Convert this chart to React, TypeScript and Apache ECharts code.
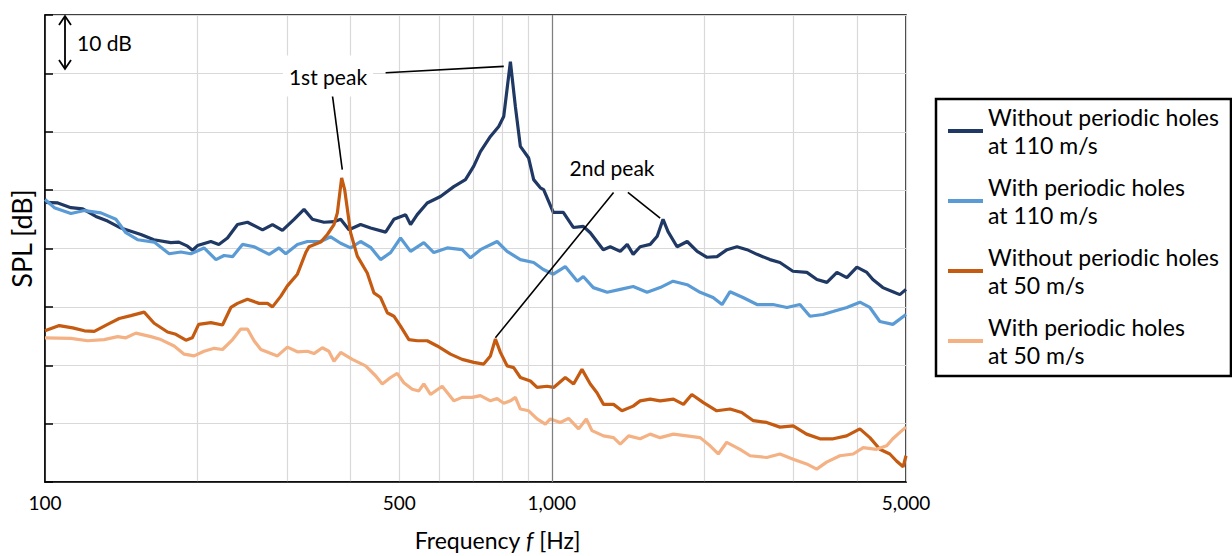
import React, { useEffect, useRef } from "react";
import * as echarts from "echarts";

// Frequency grid / labels (Hz)
const xTickValues = [100, 200, 300, 400, 500, 600, 700, 800, 900, 1000, 2000, 3000, 4000, 5000];
const xLabelValues = [100, 500, 1000, 5000];

const seriesNames = [
  "Without periodic holes\nat 110 m/s",
  "With periodic holes\nat 110 m/s",
  "Without periodic holes\nat 50 m/s",
  "With periodic holes\nat 50 m/s",
];
const seriesColors = ["#203864", "#5B9BD5", "#C55A11", "#F4B183"];

// [frequency Hz, SPL dB (relative)]
const without110: [number, number][] = [
  [100, 47.9], [106, 47.8], [112.5, 47.0], [118.7, 46.8], [126, 45.5], [132.9, 44.7], [141.2, 43.5],
  [154.6, 42.4], [164, 41.5], [177.1, 41.0], [183.7, 41.1], [191.1, 40.4], [195.5, 39.7], [200, 40.5],
  [212.5, 41.2], [220.3, 40.7], [229.1, 41.8], [239.8, 44.1], [250.9, 44.5], [268.7, 43.2], [281.1, 44.1],
  [294.1, 43.1], [310.1, 45.0], [324.4, 46.7], [337, 45.0], [355.2, 44.5], [371.7, 44.6], [383.2, 45.0],
  [397.9, 43.2], [419.5, 44.1], [439, 43.5], [470, 42.8], [488, 45.0], [514.6, 45.8], [526.4, 44.1],
  [542.6, 45.8], [567.8, 47.8], [603.1, 48.9], [640.7, 50.6], [675.6, 51.8], [701.6, 54.1], [723.1, 56.6],
  [756.7, 59.2], [785.8, 60.9], [803.8, 62.6], [828.6, 72.0], [847.6, 64.3], [867, 57.5], [900.3, 55.5],
  [921, 51.8], [949.4, 50.4], [963.7, 50.1], [1007, 46.2], [1053.8, 46.2], [1102.8, 43.6], [1154, 43.8],
  [1191.2, 42.7], [1263.5, 39.8], [1304.4, 40.3], [1365, 39.5], [1409, 40.7], [1447.5, 39.0], [1494, 40.3],
  [1564, 40.7], [1614.6, 42.1], [1658, 45.0], [1696, 42.9], [1767, 40.3], [1850, 41.2], [1936, 39.5],
  [2025, 38.5], [2119, 38.6], [2217, 39.8], [2320, 40.3], [2428, 39.8], [2541, 39.0], [2695, 38.1],
  [2820, 37.6], [2991, 36.1], [3187, 35.9], [3336, 34.7], [3491, 34.2], [3653, 35.9], [3822, 35.0],
  [4000, 36.8], [4186, 35.9], [4301, 34.7], [4500, 33.3], [4710, 32.6], [4862, 32.1], [5000, 33.0],
];

const with110: [number, number][] = [
  [100, 48.4], [104.3, 47.0], [112.5, 46.0], [119.6, 46.5], [128.9, 46.1], [138, 45.0], [144.4, 42.7],
  [152.3, 41.5], [164.2, 41.1], [175.8, 39.1], [185.4, 39.4], [194, 39.1], [206, 40.1], [217.4, 38.1],
  [225.6, 38.8], [234.5, 38.6], [245.3, 40.7], [258.5, 40.3], [276.9, 39.0], [289.6, 40.1], [298.6, 39.1],
  [314.8, 40.7], [329.5, 41.2], [349.9, 41.2], [366.2, 42.0], [383.2, 40.9], [400.9, 40.1], [419.5, 41.2],
  [439, 40.2], [459.4, 38.1], [480.7, 39.3], [503, 41.8], [526.4, 39.5], [559.1, 41.0], [585.1, 39.3],
  [621.7, 40.1], [665.5, 39.8], [691.1, 38.4], [723.1, 39.8], [780, 41.2], [816.2, 39.5], [867, 38.1],
  [921, 37.6], [962.4, 36.4], [1007, 35.6], [1063.2, 36.9], [1123, 34.4], [1154, 35.2], [1207.5, 33.3],
  [1286.6, 32.5], [1365, 33.0], [1447.5, 33.5], [1542, 32.5], [1636, 33.3], [1735.5, 34.4], [1850, 33.8],
  [1962, 32.5], [2081, 31.6], [2167.5, 30.4], [2248, 32.6], [2384, 31.6], [2541, 30.4], [2732, 30.4],
  [2911, 29.9], [3088, 30.4], [3232, 28.4], [3428, 28.7], [3588, 29.2], [3822, 29.9], [4055, 30.8],
  [4243, 29.9], [4440, 27.5], [4710, 27.0], [5000, 28.7],
];

const without50: [number, number][] = [
  [100, 25.9], [106.7, 26.8], [113.4, 26.4], [119.6, 25.9], [125.1, 25.8], [132.9, 27.0], [140.1, 28.0],
  [147.7, 28.5], [156.9, 29.1], [164.2, 27.2], [174.5, 25.7], [181.2, 25.3], [189.7, 24.3], [195.3, 24.7],
  [201, 27.0], [212.5, 27.3], [224, 26.9], [232.7, 29.9], [239.8, 30.6], [250.9, 31.3], [264.5, 30.6],
  [274.8, 30.6], [281.1, 30.0], [291.8, 31.8], [300.8, 33.6], [314.8, 35.6], [327, 39.3], [331.9, 40.3],
  [349.9, 41.1], [360.7, 42.4], [371.7, 44.1], [377.5, 46.1], [384.9, 52.1], [390.2, 50.1], [400.9, 42.7],
  [413.3, 38.7], [432.4, 35.8], [445.6, 32.4], [459.4, 31.6], [473.6, 29.0], [488, 28.4], [503, 26.7],
  [522.4, 24.4], [542.6, 24.2], [567.8, 24.2], [594.2, 23.3], [631.1, 21.9], [665.5, 21.0], [701.6, 20.5],
  [734, 20.2], [756.7, 21.6], [774.1, 24.5], [791.8, 22.2], [816.2, 19.9], [841.1, 19.6], [867, 17.9],
  [907.3, 17.3], [935.3, 16.2], [978.7, 16.4], [1008.5, 16.2], [1063.2, 17.9], [1104.3, 16.8], [1147, 19.3],
  [1191.2, 16.8], [1228, 15.3], [1265, 13.3], [1324, 13.3], [1375.5, 12.2], [1447.5, 13.0], [1494, 13.9],
  [1564, 14.2], [1636, 13.9], [1737.8, 14.2], [1819, 13.3], [1889.5, 15.0], [1991.6, 13.6], [2116, 12.2],
  [2248, 12.5], [2370, 11.9], [2499, 10.5], [2655, 10.2], [2820, 9.4], [2995, 9.6], [3183, 8.2],
  [3382, 7.4], [3592, 7.4], [3817, 7.9], [4055, 9.1], [4243, 7.6], [4440, 5.6], [4646, 4.8],
  [4789, 3.6], [4935, 2.6], [5000, 4.5],
];

const with50: [number, number][] = [
  [100, 24.7], [112.5, 24.6], [121.4, 24.2], [130.8, 24.4], [139.1, 24.9], [144.4, 24.7], [151.1, 25.5],
  [161.8, 24.9], [169.3, 24.4], [179.8, 23.3], [188.2, 21.9], [196.9, 21.6], [206, 22.4], [215.7, 22.9],
  [224, 22.7], [234.5, 24.4], [243.4, 26.2], [250.9, 26.2], [258.5, 24.2], [266.6, 22.7], [287.5, 21.6],
  [300.8, 23.1], [314.8, 22.3], [329.5, 22.4], [339.4, 22.0], [352.6, 23.0], [363.2, 22.4], [371.7, 20.7],
  [383.2, 22.2], [404, 21.0], [429.2, 19.9], [449.1, 18.2], [463, 16.8], [480.7, 17.9], [495.5, 18.6],
  [510.6, 17.0], [530.5, 15.9], [546.6, 15.6], [559.1, 16.8], [576.4, 15.0], [607.8, 16.4], [640.7, 13.9],
  [665.5, 14.5], [696.5, 14.5], [723.1, 14.8], [756.7, 13.9], [780, 14.3], [803.8, 13.5], [828.6, 13.9],
  [847.6, 14.5], [867, 12.5], [900.3, 12.2], [935.3, 10.8], [971.2, 9.9], [993.5, 10.8], [1039.6, 10.2],
  [1079.5, 10.9], [1129.6, 9.1], [1170, 10.8], [1200.4, 8.8], [1265, 7.9], [1324, 7.6], [1365, 6.5],
  [1418, 7.9], [1494, 7.4], [1564, 8.2], [1636, 7.6], [1737.8, 8.2], [1847, 7.9], [1962, 7.6],
  [2053, 6.2], [2131, 4.8], [2214, 6.8], [2352, 5.6], [2462, 4.5], [2655, 4.2], [2820, 4.8],
  [2995, 3.9], [3183, 3.1], [3332, 2.2], [3486, 3.4], [3703, 4.5], [3934, 4.8], [4116, 5.9],
  [4373, 5.6], [4577, 6.2], [4710, 7.4], [4862, 8.5], [5000, 9.4],
];

// Annotation leader lines in data coordinates [[f1, dB1], [f2, dB2]]
const leaderLines: [[number, number], [number, number]][] = [
  [[369, 66.3], [386, 53.5]],
  [[470, 70.1], [804, 71.2]],
  [[1324, 49.6], [774, 24.7]],
  [[1413, 49.6], [1636, 45.2]],
];

const FONT = "Lato";

export default function App() {
  const ref = useRef<HTMLDivElement>(null);
  useEffect(() => {
    document.body.style.margin = "0";
    const chart = echarts.init(ref.current!, null, { renderer: "svg" });
    const datasets = [without110, with110, without50, with50];
    const series: any[] = datasets.map((d, i) => ({
      name: seriesNames[i],
      type: "line",
      data: d,
      showSymbol: false,
      symbol: "none",
      smooth: false,
      lineStyle: { color: seriesColors[i], width: 3.2 },
      itemStyle: { color: seriesColors[i] },
      z: 3,
    }));
    // gray 1000 Hz reference line (under the curves)
    series.push({
      name: "ref",
      type: "line",
      data: [],
      z: 1,
      markLine: {
        silent: true,
        symbol: ["none", "none"],
        label: { show: false },
        lineStyle: { color: "#7f7f7f", width: 1.2, type: "solid" },
        data: [{ xAxis: 1000 }],
      },
    });
    // annotation leaders (above the curves)
    series.push({
      name: "leaders",
      type: "line",
      data: [],
      z: 5,
      markLine: {
        silent: true,
        symbol: ["none", "none"],
        label: { show: false },
        lineStyle: { color: "#000", width: 1.6, type: "solid" },
        data: leaderLines.map(([a, b]) => [{ coord: a }, { coord: b }]),
      },
    });

    const option: any = {
      animation: false,
      textStyle: { fontFamily: FONT, color: "#000" },
      grid: {
        left: 44, top: 15, right: 326, bottom: 73,
        show: true, borderColor: "#000", borderWidth: 1.5, backgroundColor: "transparent",
      },
      xAxis: {
        type: "log",
        logBase: 10,
        min: 100,
        max: 5000,
        name: "Frequency {i|f} [Hz]",
        nameLocation: "middle",
        nameGap: 46,
        nameTextStyle: {
          fontFamily: FONT, fontSize: 23, color: "#000", padding: [0, 0, 0, 44],
          rich: { i: { fontFamily: FONT, fontSize: 23, fontStyle: "italic", color: "#000" } },
        },
        axisLine: { show: true, lineStyle: { color: "#000", width: 1.5 } },
        axisTick: { show: false, customValues: xTickValues },
        axisLabel: {
          customValues: xLabelValues,
          fontFamily: FONT, fontSize: 19, color: "#000", margin: 11,
          formatter: (v: number) => Math.round(v).toLocaleString("en-US"),
        },
        splitLine: { show: true, lineStyle: { color: "#d9d9d9", width: 1.2 } },
        minorSplitLine: { show: false },
      },
      yAxis: {
        type: "value",
        min: 0,
        max: 80,
        interval: 10,
        name: "SPL [dB]",
        nameLocation: "middle",
        nameGap: 10,
        nameTextStyle: { fontFamily: FONT, fontSize: 27, color: "#000", padding: [0, 0, 0, 20] },
        axisLine: { show: true, lineStyle: { color: "#000", width: 1.5 } },
        axisTick: { show: true, inside: true, length: 8, lineStyle: { color: "#000", width: 1.5 } },
        axisLabel: { show: false },
        splitLine: { show: true, lineStyle: { color: "#d9d9d9", width: 1.2 } },
      },
      legend: {
        orient: "vertical",
        left: 936,
        top: 99,
        data: seriesNames,
        icon: "rect",
        itemWidth: 35,
        itemHeight: 4,
        itemGap: 14,
        padding: [4, 12, 7, 12],
        borderColor: "#000",
        borderWidth: 2.5,
        textStyle: { fontFamily: FONT, fontSize: 23, lineHeight: 28, color: "#000" },
      },
      graphic: [
        { type: "line", shape: { x1: 65, y1: 16, x2: 65, y2: 69 }, style: { stroke: "#000", lineWidth: 1.8 }, z: 10 },
        { type: "polyline", shape: { points: [[59, 25], [65, 16], [71, 25]] }, style: { stroke: "#000", fill: null, lineWidth: 1.8 }, z: 10 },
        { type: "polyline", shape: { points: [[59, 60], [65, 69], [71, 60]] }, style: { stroke: "#000", fill: null, lineWidth: 1.8 }, z: 10 },
        { type: "text", x: 77, y: 42, style: { text: "10 dB", fontFamily: FONT, fontSize: 21, fill: "#000", verticalAlign: "middle", align: "left" }, z: 10 },
        {
          type: "text", x: 328, y: 76,
          style: { text: "1st peak", fontFamily: FONT, fontSize: 21, fill: "#000", align: "center", verticalAlign: "middle", backgroundColor: "#fff", padding: [10, 6] },
          z: 10,
        },
        {
          type: "text", x: 612, y: 167,
          style: { text: "2nd peak", fontFamily: FONT, fontSize: 21, fill: "#000", align: "center", verticalAlign: "middle", backgroundColor: "#fff", padding: [4, 6] },
          z: 10,
        },
      ],
      series,
    };
    chart.setOption(option);
    return () => chart.dispose();
  }, []);
  return <div ref={ref} style={{ width: 1232, height: 556 }} />;
}
